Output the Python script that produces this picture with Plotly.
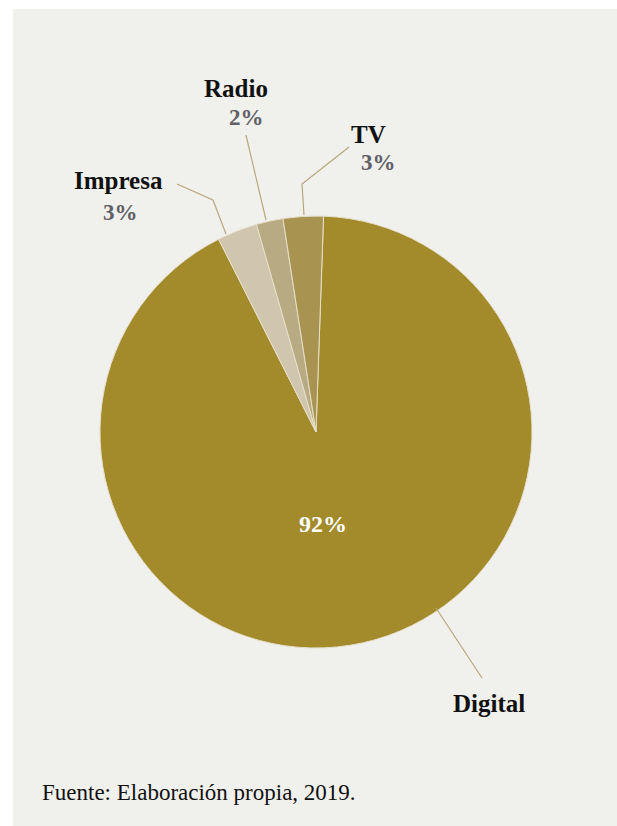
import plotly.graph_objects as go

# Share of advertising investment by medium (%)
media = ["Digital", "Impresa", "Radio", "TV"]
shares = [92, 3, 2, 3]
slice_colors = ["#a38b2c", "#cfc6ad", "#b8aa82", "#a89450"]
source_note = "Fuente: Elaboración propia, 2019."

W, H = 617, 826
SERIF = "Liberation Serif, Times New Roman, DejaVu Serif, serif"


def px(x):
    return x / W


def py(y):
    return 1 - y / H


# Pie placement (pixels): centre and radius
cx, cy, r = 316, 432, 216

fig = go.Figure(
    go.Pie(
        labels=media,
        values=shares,
        sort=False,
        direction="clockwise",
        rotation=2,
        marker=dict(colors=slice_colors, line=dict(color="#e6dfca", width=1)),
        textinfo="none",
        hoverinfo="label+percent",
        showlegend=False,
        domain=dict(x=[px(cx - r), px(cx + r)], y=[py(cy + r), py(cy - r)]),
    )
)

# Light panel behind the chart
shapes = [
    dict(type="rect", xref="paper", yref="paper", x0=px(13), x1=1, y0=0, y1=py(9),
         fillcolor="#f0f0ec", line=dict(width=0), layer="below")
]

# Leader lines from slices to labels (pixel polylines)
leaders = {
    "Impresa": [(177, 184), (213, 200), (226, 234)],
    "Radio": [(246, 135), (266, 220)],
    "TV": [(349, 147), (302, 184), (304, 215)],
    "Digital": [(436, 608), (482, 678)],
}
for pts in leaders.values():
    path = "M " + " L ".join(f"{px(x)},{py(y)}" for x, y in pts)
    shapes.append(dict(type="path", xref="paper", yref="paper", path=path,
                       line=dict(color="#b8a77c", width=1.2)))

# Label anchors (pixel centres) for name and percentage
name_pos = {"Impresa": (118, 180), "Radio": (236, 88), "TV": (368, 134), "Digital": (489, 703)}
pct_pos = {"Impresa": (120, 212), "Radio": (246, 117), "TV": (378, 163), "Digital": (323, 524)}

annotations = []
for name, val in zip(media, shares):
    nx, ny = name_pos[name]
    annotations.append(dict(
        x=px(nx), y=py(ny), xref="paper", yref="paper", text=name, showarrow=False,
        xanchor="center", yanchor="middle",
        font=dict(family=SERIF, size=25, color="#111111", weight="bold"),
    ))
    tx, ty = pct_pos[name]
    inside = name == "Digital"
    annotations.append(dict(
        x=px(tx), y=py(ty), xref="paper", yref="paper", text=f"{val}%", showarrow=False,
        xanchor="center", yanchor="middle",
        font=dict(family=SERIF, size=24 if inside else 23,
                  color="#ffffff" if inside else "#606066", weight="bold"),
    ))

annotations.append(dict(
    x=px(40), y=py(792), xref="paper", yref="paper", text=source_note, showarrow=False,
    xanchor="left", yanchor="middle",
    font=dict(family=SERIF, size=23, color="#111111", weight="normal"),
))

fig.update_layout(
    width=W, height=H,
    margin=dict(l=0, r=0, t=0, b=0),
    paper_bgcolor="#ffffff",
    plot_bgcolor="#ffffff",
    font=dict(family=SERIF),
    shapes=shapes,
    annotations=annotations,
)

fig.write_html("out.html")
